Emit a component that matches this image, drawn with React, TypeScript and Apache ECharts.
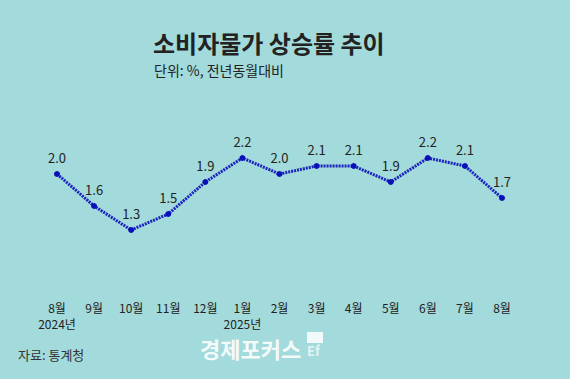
import React, { useEffect, useRef } from "react";
import * as echarts from "echarts";

const months = ["8월\n2024년", "9월", "10월", "11월", "12월", "1월\n2025년", "2월", "3월", "4월", "5월", "6월", "7월", "8월"];
const cpi = [2.0, 1.6, 1.3, 1.5, 1.9, 2.2, 2.0, 2.1, 2.1, 1.9, 2.2, 2.1, 1.7];

const titleText = "소비자물가 상승률 추이";
const subtitleText = "단위: %, 전년동월대비";
const sourceText = "자료: 통계청";
const watermarkText = "경제포커스";

export default function App() {
  const ref = useRef<HTMLDivElement>(null);
  useEffect(() => {
    document.body.style.margin = "0";
    const chart = echarts.init(ref.current!, null, { renderer: "svg" });
    const font = "'Noto Sans CJK KR', 'Noto Sans', sans-serif";
    chart.setOption({
      animation: false,
      backgroundColor: "#a3dadb",
      grid: { left: 57, right: 68, top: 134, height: 120 },
      xAxis: {
        type: "category",
        data: months,
        boundaryGap: false,
        axisLine: { show: false },
        axisTick: { show: false },
        axisLabel: {
          margin: 45,
          color: "#222",
          fontSize: 12,
          fontFamily: font,
          lineHeight: 16,
          interval: 0,
        },
      },
      yAxis: {
        type: "value",
        min: 1.0,
        max: 2.5,
        show: false,
      },
      series: [
        {
          type: "line",
          data: cpi,
          symbol: "circle",
          symbolSize: 6,
          itemStyle: { color: "#0a10b8" },
          lineStyle: { color: "#1a22c0", width: 3, type: [2, 1] },
          label: {
            show: true,
            position: "top",
            distance: 7,
            color: "#222",
            fontSize: 13,
            fontFamily: font,
            formatter: (p: any) => p.value.toFixed(1),
          },
        },
      ],
      graphic: [
        {
          type: "text",
          left: 153,
          top: 30,
          style: {
            text: titleText,
            fill: "#222",
            font: `bold 24px ${font}`,
          },
        },
        {
          type: "text",
          left: 154,
          top: 63,
          style: {
            text: subtitleText,
            fill: "#222",
            font: `14px ${font}`,
          },
        },
        {
          type: "text",
          left: 18,
          top: 348,
          style: {
            text: sourceText,
            fill: "#333",
            font: `13px ${font}`,
          },
        },
        {
          type: "text",
          left: 200,
          top: 337,
          style: {
            text: watermarkText,
            fill: "#ffffff",
            font: `bold 22px ${font}`,
            opacity: 0.9,
          },
        },
        {
          type: "rect",
          shape: { x: 307, y: 332, width: 16, height: 11 },
          style: { fill: "#ffffff", opacity: 0.85 },
        },
        {
          type: "text",
          left: 307,
          top: 344,
          style: {
            text: "Ef",
            fill: "#ffffff",
            font: `bold 13px ${font}`,
            opacity: 0.7,
          },
        },
      ],
    });
    return () => chart.dispose();
  }, []);
  return <div ref={ref} style={{ width: 570, height: 379 }} />;
}
